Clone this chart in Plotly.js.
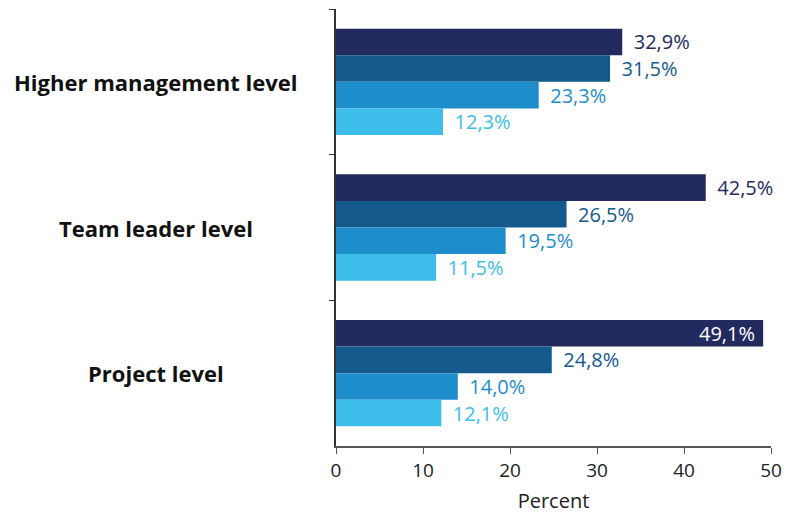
<!DOCTYPE html>
<html><head><meta charset="utf-8">
<script src="https://cdn.plot.ly/plotly-3.0.1.min.js"></script>
<style>html,body{margin:0;padding:0;background:#fff}</style>
</head><body><div id="chart" style="width:797px;height:516px"></div>
<script>
var categories = ["Higher management level", "Team leader level", "Project level"];
var seriesA = [32.9, 42.5, 49.1];
var seriesB = [31.5, 26.5, 24.8];
var seriesC = [23.3, 19.5, 14.0];
var seriesD = [12.3, 11.5, 12.1];
var xTicks = [0, 10, 20, 30, 40, 50];

var colors = ["#232a5f", "#155a8c", "#1e8dcb", "#3dbde9"];
var allSeries = [seriesA, seriesB, seriesC, seriesD];
var font = "Open Sans, Noto Sans, sans-serif";
var vsize = 20;
var pre = "\u00a0\u2009";

var traces = allSeries.map(function (vals, i) {
  var t = {
    type: "bar", orientation: "h", y: categories, x: vals,
    marker: {color: colors[i]},
    texttemplate: pre + "%{x:.1f}%",
    textposition: "outside",
    textfont: {color: colors[i], size: vsize, family: font},
    cliponaxis: false,
    hoverinfo: "none"
  };
  if (i === 0) {
    t.textposition = ["outside", "outside", "inside"];
    t.texttemplate = [pre + "%{x:.1f}%", pre + "%{x:.1f}%", "%{x:.1f}%\u00a0"];
    t.insidetextanchor = "end";
    t.insidetextfont = {color: "#ffffff", size: vsize, family: font};
    t.outsidetextfont = {color: colors[i], size: vsize, family: font};
  }
  return t;
});

var annotations = categories.map(function (c) {
  return {
    xref: "paper", yref: "y", x: -0.414, y: c, xanchor: "center", yanchor: "middle",
    text: c, showarrow: false,
    font: {size: 22, color: "#111", family: font, weight: "bold"}
  };
});

var layout = {
  width: 797, height: 516,
  margin: {l: 336, r: 26, t: 9, b: 70},
  barmode: "group", bargap: 0.27, bargroupgap: 0,
  showlegend: false,
  separators: ",.",
  paper_bgcolor: "#fff", plot_bgcolor: "#fff",
  font: {family: font, color: "#222"},
  uniformtext: {mode: "show", minsize: vsize},
  annotations: annotations,
  xaxis: {
    range: [0, 50], tickvals: xTicks, ticks: "outside", ticklen: 6, tickcolor: "#555",
    showline: true, linecolor: "#555", linewidth: 2, showgrid: false, zeroline: false,
    tickfont: {size: 19, color: "#222", family: font},
    title: {text: "Percent", font: {size: 20, color: "#222", family: font}, standoff: 12}
  },
  yaxis: {
    autorange: "reversed", type: "category",
    ticks: "outside", tickson: "boundaries", ticklen: 5, tickcolor: "#333",
    showline: true, linecolor: "#333", linewidth: 2, showgrid: false, zeroline: false,
    showticklabels: false
  }
};

Plotly.newPlot("chart", traces, layout, {displayModeBar: false, staticPlot: true});
</script></body></html>
